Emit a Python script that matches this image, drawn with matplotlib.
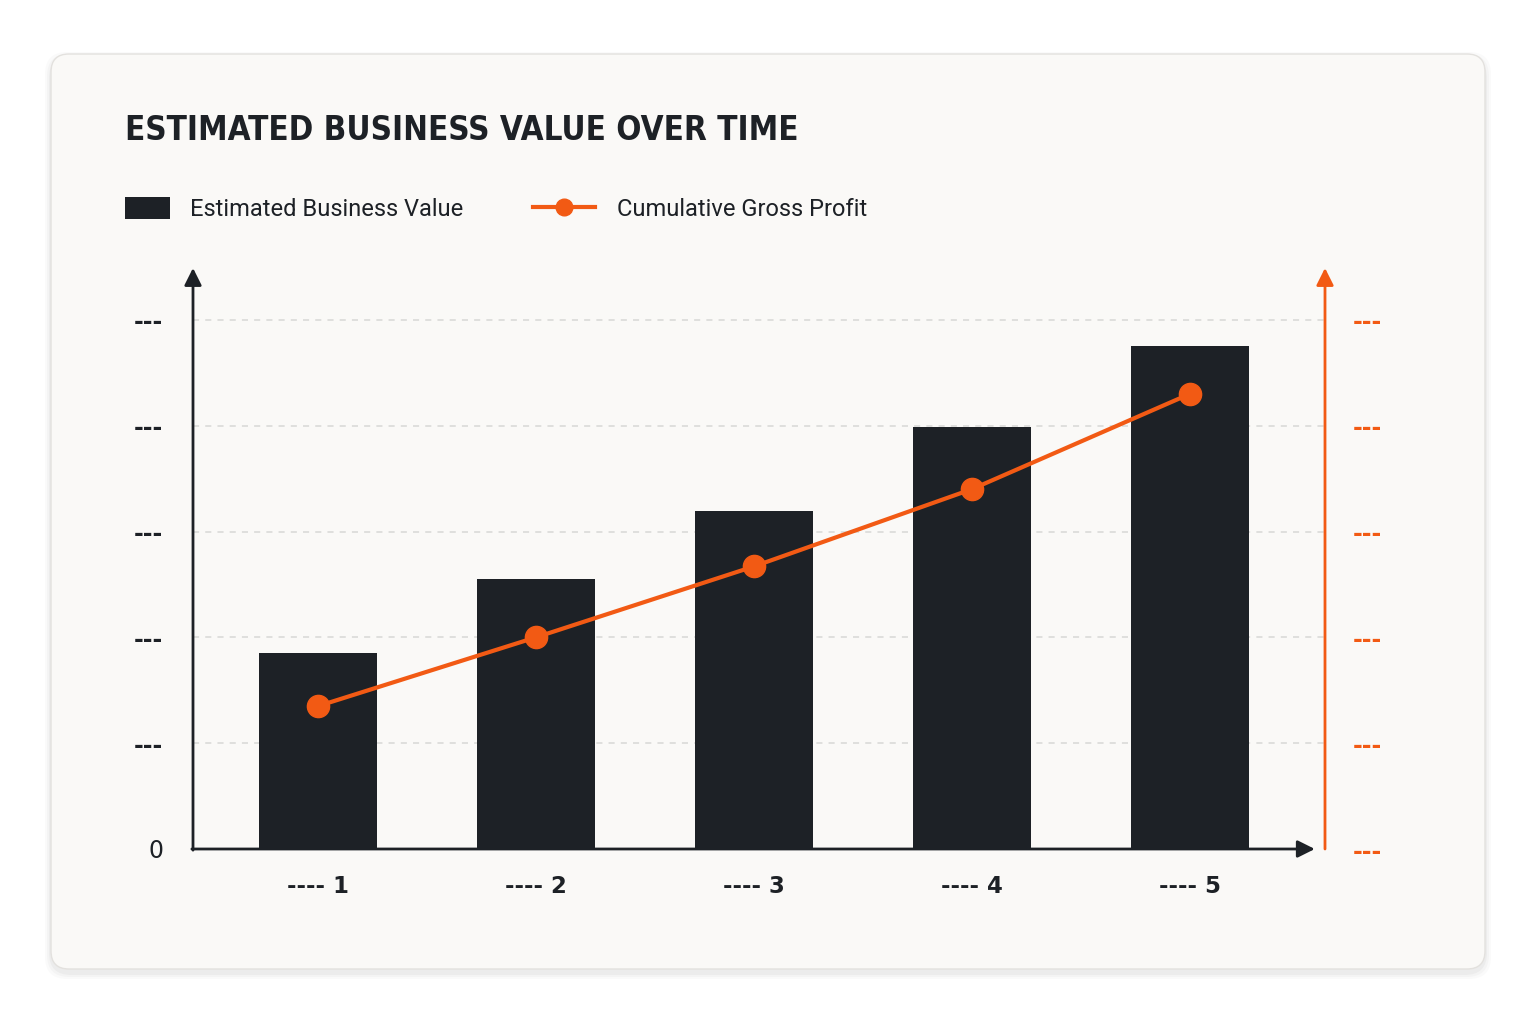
import matplotlib
matplotlib.use('Agg')
import matplotlib.pyplot as plt
import matplotlib.transforms as mtransforms
from matplotlib.patches import FancyBboxPatch
import numpy as np

# data
periods = ['---- 1', '---- 2', '---- 3', '---- 4', '---- 5']
business_value = [1.85, 2.55, 3.19, 3.99, 4.75]
gross_profit = [1.35, 2.00, 2.67, 3.40, 4.30]
y_ticks = [0, 1, 2, 3, 4, 5]
left_labels = ['0', '---', '---', '---', '---', '---']
right_labels = ['---', '---', '---', '---', '---', '---']

dark = '#1d2126'
orange = '#f25a14'
card_bg = '#faf9f7'

plt.rcParams['font.family'] = ['Roboto', 'DejaVu Sans']

fig = plt.figure(figsize=(15.36, 10.24), dpi=100)
fig.patch.set_facecolor('white')

# card with soft shadow, in pixel coordinates
ident = mtransforms.IdentityTransform()
for i, a in enumerate([0.018, 0.022, 0.03]):
    grow = 6 - 2 * i
    sh = FancyBboxPatch((51 - grow, 55 - grow - 4), 1434 + 2 * grow, 915 + 2 * grow,
                        boxstyle='round,pad=0,rounding_size=22', transform=ident,
                        facecolor='black', edgecolor='none', alpha=a, zorder=-12)
    fig.add_artist(sh)
card = FancyBboxPatch((51, 55), 1434, 915, boxstyle='round,pad=0,rounding_size=18',
                      transform=ident, facecolor=card_bg, edgecolor='#e3e1de',
                      lw=1, zorder=-10)
fig.add_artist(card)

# axes placed to match the reference pixels
W, H = 1536, 1024
ax = fig.add_axes([193 / W, (H - 849) / H, (1325 - 193) / W, (849 - 268) / H])
ax.set_facecolor('none')
x = np.arange(1, len(periods) + 1)
ax.set_xlim(0.427, 5.62)
ax.set_ylim(0, 5.49)

bars = ax.bar(x, business_value, width=0.54, color=dark, zorder=2,
              label='Estimated Business Value')

for s in ax.spines.values():
    s.set_visible(False)

ax.set_yticks(y_ticks)
ax.set_yticklabels(left_labels, color=dark, family='DejaVu Sans', size=17,
                   fontweight='bold')
ax.get_yticklabels()[0].set_fontweight('normal')
ax.tick_params(axis='y', length=0, pad=21.5)
ax.set_xticks(x)
ax.set_xticklabels(periods, color=dark, family='DejaVu Sans', size=16.5,
                   fontweight='bold')
ax.tick_params(axis='x', length=0, pad=19)
for yv in y_ticks[1:]:
    ax.axhline(yv, color='#d8d8d6', lw=1.1, ls=(0, (4, 4)), zorder=1)

ax2 = ax.twinx()
ax2.set_ylim(ax.get_ylim())
ax2.set_position(ax.get_position())
for s in ax2.spines.values():
    s.set_visible(False)
ax2.set_yticks(y_ticks)
ax2.set_yticklabels(right_labels, color=orange, family='DejaVu Sans', size=17,
                    fontweight='bold')
ax2.tick_params(axis='y', length=0, pad=20)
line, = ax2.plot(x, gross_profit, color=orange, lw=3, marker='o', markersize=16,
                 zorder=3, label='Cumulative Gross Profit')

# axis arrows
arrow_kw = dict(arrowstyle='-|>', lw=2, mutation_scale=26, shrinkA=0, shrinkB=0)
ax.annotate('', xy=(0, 1), xytext=(0, -0.002), xycoords='axes fraction',
            arrowprops=dict(color=dark, **arrow_kw))
ax.annotate('', xy=(0.991, 0), xytext=(-0.001, 0), xycoords='axes fraction',
            arrowprops=dict(color=dark, **arrow_kw))
ax.annotate('', xy=(1, 1), xytext=(1, 0), xycoords='axes fraction',
            arrowprops=dict(color=orange, **arrow_kw))

fig.text(125 / W, 1 - 130 / H, 'ESTIMATED BUSINESS VALUE OVER TIME',
         fontsize=23.8, fontweight='bold', color=dark, va='center', ha='left',
         family='DejaVu Sans', fontstretch='condensed')

leg_kw = dict(loc='center left', frameon=False, fontsize=17, borderpad=0,
              borderaxespad=0, labelcolor=dark)
fig.legend([bars], ['Estimated Business Value'],
           bbox_to_anchor=(125 / W, 1 - 209 / H), handlelength=1.9,
           handleheight=1.05, handletextpad=0.85, **leg_kw)
fig.legend([line], ['Cumulative Gross Profit'],
           bbox_to_anchor=(533 / W, 1 - 209 / H), handlelength=2.63,
           handletextpad=0.93, markerscale=0.75, **leg_kw)

fig.savefig('out.png', dpi=100, facecolor='white')
